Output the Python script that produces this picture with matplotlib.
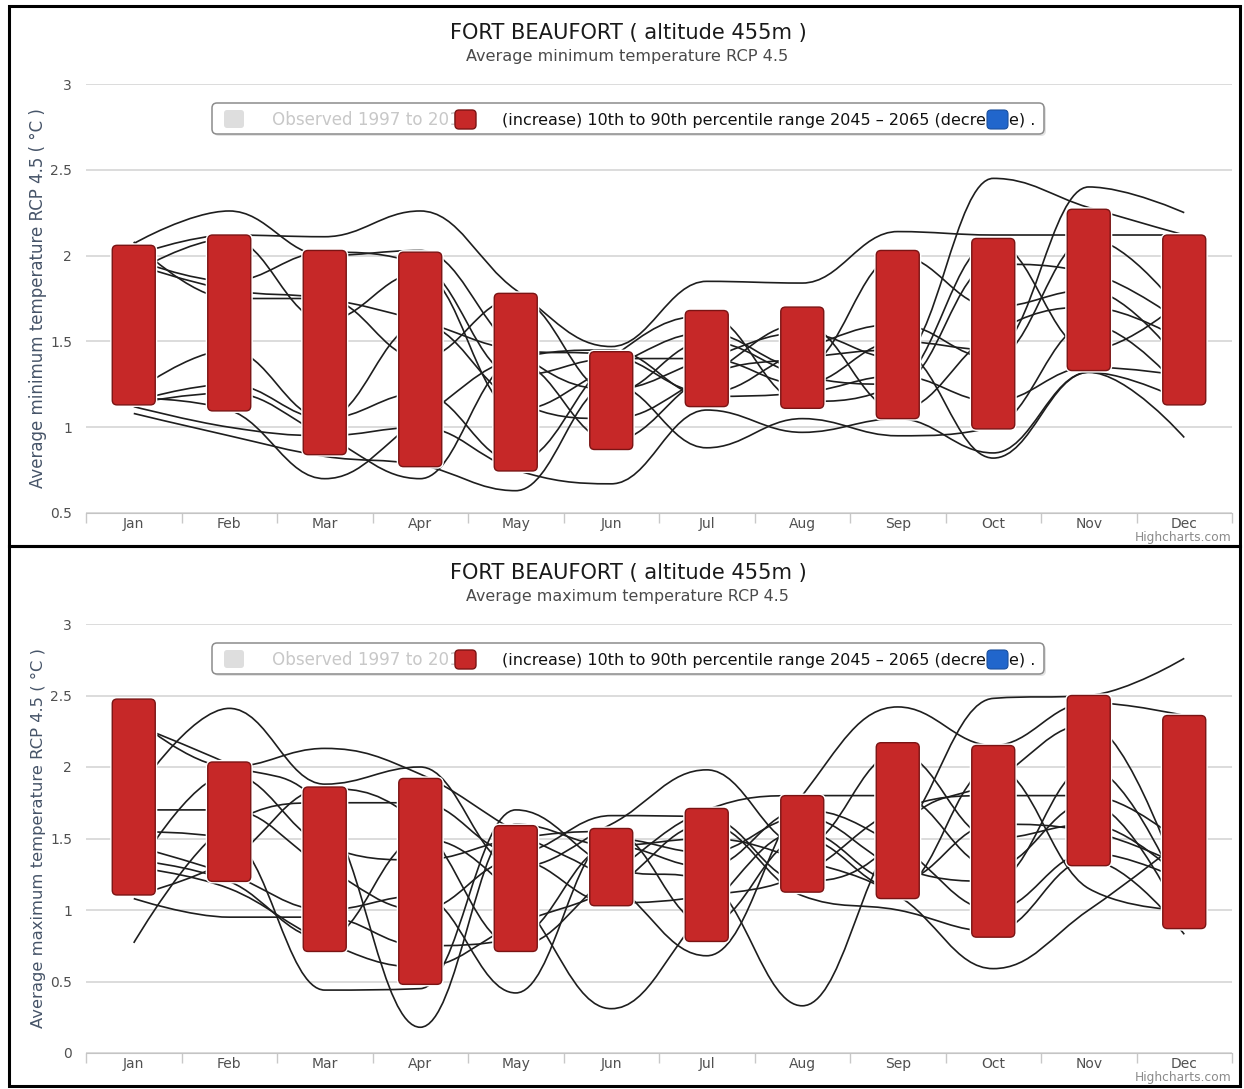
import matplotlib
matplotlib.use("Agg")
import matplotlib.pyplot as plt
from matplotlib.path import Path
from matplotlib.patches import PathPatch, FancyBboxPatch, Rectangle

months = ["Jan", "Feb", "Mar", "Apr", "May", "Jun",
          "Jul", "Aug", "Sep", "Oct", "Nov", "Dec"]

# average minimum temperature, 10th / 90th percentile change
min_lo = [1.13, 1.095, 0.84, 0.77, 0.745, 0.87, 1.12, 1.11, 1.05, 0.99, 1.33, 1.13]
min_hi = [2.06, 2.12, 2.03, 2.02, 1.78, 1.44, 1.68, 1.70, 2.03, 2.10, 2.27, 2.12]
min_models = [
    [2.00, 2.12, 2.11, 2.26, 1.80, 1.47, 1.85, 1.84, 2.14, 2.12, 2.12, 2.12],
    [2.07, 2.26, 2.00, 2.03, 1.45, 1.22, 1.40, 1.55, 1.40, 2.45, 2.28, 2.12],
    [1.98, 1.85, 2.02, 1.95, 1.30, 1.40, 1.40, 1.25, 1.50, 1.45, 2.40, 2.25],
    [1.95, 1.80, 1.75, 1.62, 1.45, 1.42, 1.20, 1.45, 1.60, 1.40, 2.10, 1.65],
    [2.08, 1.75, 1.75, 1.40, 1.75, 1.20, 1.50, 1.30, 1.25, 1.95, 1.90, 1.60],
    [1.20, 1.45, 1.05, 1.60, 1.15, 1.05, 1.30, 1.60, 1.10, 1.55, 1.70, 1.50],
    [1.17, 1.10, 0.70, 1.05, 1.40, 1.45, 1.18, 1.20, 1.30, 1.15, 1.35, 1.30],
    [1.14, 1.20, 0.95, 0.70, 1.38, 0.92, 1.30, 1.40, 1.45, 0.82, 1.32, 0.94],
    [1.08, 0.95, 0.83, 0.78, 0.63, 1.25, 0.88, 1.05, 0.95, 1.00, 1.60, 1.20],
    [1.12, 1.00, 0.95, 1.00, 0.75, 0.67, 1.10, 0.97, 1.05, 0.85, 1.32, 1.15],
    [1.90, 2.10, 1.62, 1.90, 1.10, 1.35, 1.55, 1.35, 2.00, 1.70, 1.80, 1.35],
    [1.15, 1.25, 1.05, 1.20, 0.80, 1.40, 1.65, 1.15, 1.25, 2.08, 1.45, 1.75],
]

# average maximum temperature
max_lo = [1.105, 1.20, 0.71, 0.48, 0.71, 1.03, 0.78, 1.125, 1.08, 0.81, 1.31, 0.87]
max_hi = [2.475, 2.035, 1.86, 1.92, 1.59, 1.57, 1.71, 1.80, 2.17, 2.15, 2.50, 2.36]
max_models = [
    [0.77, 1.60, 1.75, 1.75, 1.40, 1.66, 1.65, 1.20, 1.50, 2.48, 2.50, 2.76],
    [1.80, 2.41, 1.88, 2.00, 1.30, 1.60, 1.98, 1.45, 2.10, 1.50, 1.60, 1.20],
    [2.35, 2.00, 2.13, 1.95, 1.55, 1.20, 0.68, 1.80, 2.42, 2.15, 2.45, 2.36],
    [2.30, 2.02, 1.70, 0.18, 1.60, 1.45, 1.50, 1.35, 1.10, 0.59, 1.00, 1.50],
    [1.55, 1.50, 0.44, 0.45, 1.70, 1.30, 1.20, 0.33, 1.55, 1.90, 2.30, 1.10],
    [1.45, 1.25, 1.00, 1.10, 0.42, 1.50, 1.40, 1.65, 1.30, 1.20, 2.00, 1.05],
    [1.35, 1.20, 0.80, 1.50, 1.10, 0.31, 1.00, 1.55, 1.20, 1.60, 1.55, 1.30],
    [1.30, 1.15, 0.78, 0.60, 0.90, 1.15, 1.60, 1.10, 1.00, 0.85, 1.35, 0.83],
    [1.08, 0.95, 0.95, 0.75, 0.80, 1.45, 1.30, 1.70, 1.45, 1.00, 1.40, 1.20],
    [1.70, 1.70, 1.30, 1.00, 1.35, 1.05, 1.10, 1.25, 1.70, 1.80, 1.80, 1.45],
    [1.25, 1.95, 1.45, 1.35, 1.50, 1.55, 0.90, 1.50, 1.15, 2.00, 1.15, 1.00],
    [1.10, 1.35, 1.85, 1.60, 0.75, 1.25, 1.70, 1.80, 1.80, 1.30, 1.75, 0.90],
]

title = "FORT BEAUFORT ( altitude 455m )"
subtitles = ["Average minimum temperature RCP 4.5", "Average maximum temperature RCP 4.5"]
ylabels = ["Average minimum temperature RCP 4.5 ( °C )", "Average maximum temperature RCP 4.5 ( °C )"]

W, H = 1244, 1089
fig = plt.figure(figsize=(W / 100, H / 100), dpi=100)
fig.patch.set_facecolor("white")
renderer = fig.canvas.get_renderer()

RED, RED_EDGE, BLUE = "#c62828", "#7a1414", "#2166cc"


def spline_path(xs, ys):
    # highcharts style spline (smoothing 1.5)
    n = len(xs)
    lcx, lcy, rcx, rcy = list(xs), list(ys), list(xs), list(ys)
    sm, den = 1.5, 2.5
    for i in range(1, n - 1):
        px, py = xs[i], ys[i]
        lx, ly, nx, ny = xs[i - 1], ys[i - 1], xs[i + 1], ys[i + 1]
        a = (sm * px + lx) / den
        b = (sm * py + ly) / den
        c = (sm * px + nx) / den
        d = (sm * py + ny) / den
        corr = (d - b) * (c - px) / (c - a) + py - d
        b += corr
        d += corr
        if b > ly and b > py:
            b = max(ly, py); d = 2 * py - b
        elif b < ly and b < py:
            b = min(ly, py); d = 2 * py - b
        if d > ny and d > py:
            d = max(ny, py); b = 2 * py - d
        elif d < ny and d < py:
            d = min(ny, py); b = 2 * py - d
        lcx[i], lcy[i], rcx[i], rcy[i] = a, b, c, d
    verts = [(xs[0], ys[0])]
    codes = [Path.MOVETO]
    for i in range(1, n):
        verts += [(rcx[i - 1], rcy[i - 1]), (lcx[i], lcy[i]), (xs[i], ys[i])]
        codes += [Path.CURVE4] * 3
    return Path(verts, codes)


def fit(t, target, vertical=False):
    bb = t.get_window_extent(renderer=renderer)
    size = bb.height if vertical else bb.width
    t.set_fontsize(t.get_fontsize() * target / size)


def draw_panel(top, ymin, lo, hi, models, subtitle, ylabel):
    plot_top, plot_bot = top + 78, top + 507
    ax = fig.add_axes([86 / W, 1 - plot_bot / H, (1232 - 86) / W, (plot_bot - plot_top) / H])
    ax.set_xlim(-0.5, 11.5)
    ax.set_ylim(ymin, 3.0)
    for s in ax.spines.values():
        s.set_visible(False)
    ax.spines["bottom"].set_visible(True)
    ax.spines["bottom"].set_color("#c4c4c4")
    yt = [ymin + 0.5 * k for k in range(int(round((3.0 - ymin) / 0.5)) + 1)]
    ax.set_yticks(yt)
    ax.set_yticklabels([("%g" % v) for v in yt])
    ax.grid(axis="y", color="#d6d6d6", lw=1.2)
    ax.set_axisbelow(True)
    ax.set_xticks(range(12))
    ax.set_xticklabels(months)
    ax.set_xticks([k - 0.5 for k in range(13)], minor=True)
    ax.tick_params(axis="x", which="major", length=0, pad=3, labelsize=10, labelcolor="#505050")
    ax.tick_params(axis="x", which="minor", length=7, color="#c8c8c8", width=1)
    ax.tick_params(axis="y", length=0, pad=10, labelsize=10, labelcolor="#505050")

    x_px_per = (1232 - 86) / 12.0
    y_px_per = (plot_bot - plot_top) / (3.0 - ymin)
    asp = x_px_per / y_px_per

    xs = list(range(12))
    for m in models:
        ax.add_patch(PathPatch(spline_path(xs, m), fc="none", ec="#1e1e1e", lw=1.2, zorder=2))
    for i, (a, b) in enumerate(zip(lo, hi)):
        for ec, lw, z in (("white", 3.0, 3), (RED_EDGE, 1.0, 4)):
            ax.add_patch(FancyBboxPatch((i - 0.225, a), 0.45, b - a,
                                        boxstyle="round,pad=0,rounding_size=0.05",
                                        mutation_aspect=asp, fc=RED, ec=ec, lw=lw, zorder=z))

    # text and frame in pixel coordinates
    ov.add_patch(Rectangle((9, top), 1231, 540, fill=False, ec="black", lw=2.2))
    fit(ov.text(628, top + 27, title, ha="center", va="center", fontsize=14, color="#1a1a1a"), 360)
    fit(ov.text(627, top + 50, subtitle, ha="center", va="center", fontsize=11, color="#4a4a4a"), 322)
    fit(ov.text(38, (plot_top + plot_bot) / 2, ylabel, rotation=90, ha="center", va="center",
                fontsize=11, color="#465468"), 380, vertical=True)
    ov.text(1232, top + 531, "Highcharts.com", ha="right", va="center", fontsize=8.8, color="#8a8a8a")

    ly = top + 114
    ov.add_patch(FancyBboxPatch((214, ly - 15), 832, 31, boxstyle="round,pad=0,rounding_size=5",
                                fc="#c8c8c8", ec="none", alpha=0.5))
    ov.add_patch(FancyBboxPatch((212, ly - 17), 832, 31, boxstyle="round,pad=0,rounding_size=5",
                                fc="white", ec="#8c8c8c", lw=1.1))
    ov.add_patch(FancyBboxPatch((224, ly - 10), 20, 18, boxstyle="round,pad=0,rounding_size=3",
                                fc="#dedede", ec="none"))
    t1 = ov.text(272, ly, "Observed 1997 to 2015", ha="left", va="center", fontsize=10.5, color="#c8c8c8")
    t2 = ov.text(502, ly, "(increase) 10th to 90th percentile range 2045 \u2013 2065 (decre",
                 ha="left", va="center", fontsize=10.5, color="#111111")
    fit(t1, 200)
    fit(t2, 486)
    ov.text(1009, ly, "e) .", ha="left", va="center", fontsize=t2.get_fontsize(), color="#111111")
    ov.add_patch(FancyBboxPatch((455, ly - 10), 21, 19, boxstyle="round,pad=0,rounding_size=4",
                                fc=RED, ec=RED_EDGE, lw=1, zorder=5))
    ov.add_patch(FancyBboxPatch((987, ly - 10), 21, 19, boxstyle="round,pad=0,rounding_size=4",
                                fc=BLUE, ec="#1a4f9e", lw=0.8, zorder=5))


ov = fig.add_axes([0, 0, 1, 1], zorder=10)
ov.set_xlim(0, W)
ov.set_ylim(H, 0)
ov.axis("off")
ov.patch.set_visible(False)

draw_panel(6, 0.5, min_lo, min_hi, min_models, subtitles[0], ylabels[0])
draw_panel(546, 0.0, max_lo, max_hi, max_models, subtitles[1], ylabels[1])

fig.savefig("out.png", dpi=100)
